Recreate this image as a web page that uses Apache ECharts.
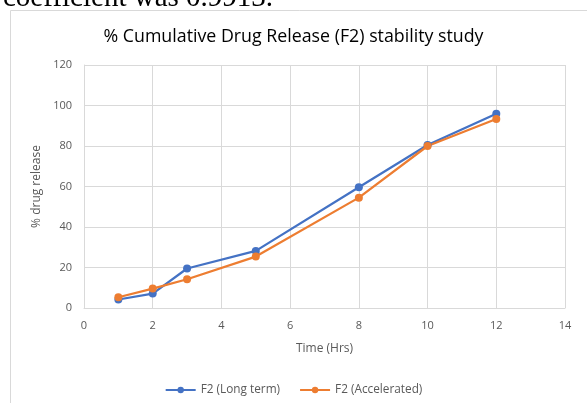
<!DOCTYPE html>
<html>
<head>
<meta charset="utf-8">
<script src="https://cdn.jsdelivr.net/npm/echarts@6/dist/echarts.min.js"></script>
<style>
  html, body { margin: 0; padding: 0; background: #fff; }
  #main { width: 587px; height: 403px; }
</style>
</head>
<body>
<div id="main"></div>
<script>
// time points (hrs)
var hours = [1, 2, 3, 5, 8, 10, 12];
// % drug release
var longTerm = [4.2, 7.1, 19.5, 28.2, 59.6, 80.5, 95.9];
var accelerated = [5.3, 9.6, 14.2, 25.4, 54.5, 80.0, 93.3];
var seriesNames = ['F2 (Long term)', 'F2 (Accelerated)'];
var colors = ['#4472C4', '#ED7D31'];

function pairs(xs, ys) {
    var out = [];
    for (var i = 0; i < xs.length; i++) {
        out.push([xs[i], ys[i]]);
    }
    return out;
}

var myChart = echarts.init(document.getElementById('main'), null, {renderer: 'canvas'});
var labelFont = 'Open Sans';
myChart.setOption({
    animation: false,
    color: colors,
    title: {
        text: '% Cumulative Drug Release (F2) stability study',
        left: 'center',
        top: 23,
        textStyle: {
            fontFamily: labelFont,
            fontSize: 17.8,
            fontWeight: 'normal',
            color: '#000'
        }
    },
    graphic: [
        {
            type: 'rect',
            shape: {x: 10.5, y: 10.5, width: 600, height: 420},
            style: {fill: 'none', stroke: '#d9d9d9', lineWidth: 1},
            silent: true
        },
        {
            // tail of the paragraph above the chart, cut off by the crop
            type: 'text',
            x: 3,
            y: 13,
            style: {
                text: 'coefficient was 0.9913.',
                font: '29px "Liberation Serif"',
                fill: '#000',
                verticalAlign: 'bottom'
            },
            silent: true
        }
    ],
    legend: {
        data: seriesNames,
        left: 'center',
        top: 379,
        itemWidth: 30,
        itemHeight: 8,
        itemGap: 19,
        textStyle: {fontFamily: labelFont, fontSize: 11.8, color: '#595959'}
    },
    grid: {
        left: 84,
        right: 22,
        top: 65,
        bottom: 95,
        containLabel: false
    },
    xAxis: {
        type: 'value',
        min: 0,
        max: 14,
        interval: 2,
        name: 'Time (Hrs)',
        nameLocation: 'middle',
        nameGap: 35,
        nameTextStyle: {fontFamily: labelFont, fontSize: 12, color: '#595959'},
        axisLine: {show: true, lineStyle: {color: '#d9d9d9', width: 1}},
        axisTick: {show: false},
        axisLabel: {fontFamily: labelFont, fontSize: 11, color: '#595959', margin: 12},
        splitLine: {show: true, lineStyle: {color: '#d9d9d9', width: 1}}
    },
    yAxis: {
        type: 'value',
        min: 0,
        max: 120,
        interval: 20,
        name: '% drug release',
        nameLocation: 'middle',
        nameGap: 36,
        nameTextStyle: {fontFamily: labelFont, fontSize: 12, color: '#595959'},
        axisLine: {show: true, lineStyle: {color: '#d9d9d9', width: 1}},
        axisTick: {show: false},
        axisLabel: {fontFamily: labelFont, fontSize: 11, color: '#595959', margin: 12},
        splitLine: {show: true, lineStyle: {color: '#d9d9d9', width: 1}}
    },
    series: [
        {
            name: seriesNames[0],
            type: 'line',
            data: pairs(hours, longTerm),
            symbol: 'circle',
            symbolSize: 8,
            lineStyle: {width: 2.25, color: colors[0]},
            itemStyle: {color: colors[0]}
        },
        {
            name: seriesNames[1],
            type: 'line',
            data: pairs(hours, accelerated),
            symbol: 'circle',
            symbolSize: 8,
            lineStyle: {width: 2.25, color: colors[1]},
            itemStyle: {color: colors[1]}
        }
    ]
});
</script>
</body>
</html>
